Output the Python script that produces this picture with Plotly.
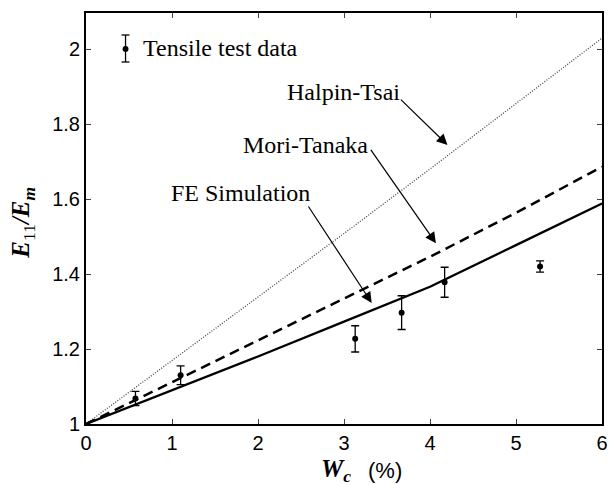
import plotly.graph_objects as go

# ---- data ----
wc_test = [0.575, 1.10, 3.13, 3.67, 4.17, 5.28]
e_test = [1.068, 1.13, 1.227, 1.297, 1.378, 1.42]
e_err = [0.019, 0.025, 0.035, 0.045, 0.04, 0.015]

wc_curve = [0, 1, 2, 3, 4, 5, 6]
e_halpin = [1.0, 1.169, 1.338, 1.508, 1.680, 1.854, 2.029]
e_mori = [1.0, 1.111, 1.222, 1.333, 1.446, 1.563, 1.686]
e_fe = [1.0, 1.090, 1.180, 1.273, 1.366, 1.477, 1.588]

x_ticks = [0, 1, 2, 3, 4, 5, 6]
y_ticks = [1, 1.2, 1.4, 1.6, 1.8, 2]
y_tick_text = ["1", "1.2", "1.4", "1.6", "1.8", "2"]

labels = ["Halpin-Tsai", "Mori-Tanaka", "FE Simulation"]
label_pos = [(2.99, 1.886), (2.55, 1.744), (1.80, 1.616)]
arrow_tail = [(3.644, 1.869), (3.30, 1.735), (2.575, 1.584)]
arrow_tip = [(4.203, 1.744), (4.069, 1.482), (3.322, 1.323)]

SERIF = "Liberation Serif, Times New Roman, serif"
SANS = "Liberation Sans, Arial, sans-serif"

fig = go.Figure()
fig.add_trace(go.Scatter(x=wc_curve, y=e_halpin, mode="lines",
                         line=dict(color="#444444", width=1.3, dash="1px,1.6px"),
                         showlegend=False))
fig.add_trace(go.Scatter(x=wc_curve, y=e_mori, mode="lines",
                         line=dict(color="black", width=2.5, dash="10px,6px"),
                         showlegend=False))
fig.add_trace(go.Scatter(x=wc_curve, y=e_fe, mode="lines",
                         line=dict(color="black", width=2.3),
                         showlegend=False))
fig.add_trace(go.Scatter(x=wc_test, y=e_test, mode="markers",
                         marker=dict(color="black", size=6),
                         error_y=dict(type="data", array=e_err, color="black",
                                      thickness=1.3, width=4),
                         showlegend=False))

annotations = []
for t, (lx, ly) in zip(labels, label_pos):
    annotations.append(dict(x=lx, y=ly, xref="x", yref="y", text=t,
                            showarrow=False, font=dict(family=SERIF, size=24, color="black"),
                            xanchor="center", yanchor="middle"))
for (tx, ty), (hx, hy) in zip(arrow_tail, arrow_tip):
    annotations.append(dict(x=hx, y=hy, ax=tx, ay=ty, xref="x", yref="y",
                            axref="x", ayref="y", text="", showarrow=True,
                            arrowhead=2, arrowsize=1.8, arrowwidth=1.2,
                            arrowcolor="black", standoff=0, startstandoff=0))
# legend text
annotations.append(dict(x=0.107, y=0.914, xref="paper", yref="paper",
                        text="Tensile test data", showarrow=False,
                        font=dict(family=SERIF, size=24, color="black"),
                        xanchor="left", yanchor="middle"))
# axis titles
annotations.append(dict(x=0.529, y=-0.112, xref="paper", yref="paper",
                        text="<b><i>W<sub>c</sub></i></b>",
                        showarrow=False, font=dict(family=SERIF, size=25, color="black"),
                        xanchor="right", yanchor="middle", xshift=-6))
annotations.append(dict(x=0.529, y=-0.112, xref="paper", yref="paper",
                        text="(%)", showarrow=False,
                        font=dict(family=SANS, size=22, color="black"),
                        xanchor="left", yanchor="middle", xshift=7))
annotations.append(dict(x=-0.122, y=0.49, xref="paper", yref="paper",
                        text="<b><i>E</i></b><sub>11</sub><b><i>/E<sub>m</sub></i></b>",
                        showarrow=False, textangle=-90,
                        font=dict(family=SERIF, size=25, color="black"),
                        xanchor="center", yanchor="middle"))

# legend symbol (error bar glyph) in paper coords
lx0 = (126 - 86) / 522.0
def py(p):
    return (424 - p) / 411.0
cap = 4 / 522.0
shapes = [
    dict(type="line", xref="paper", yref="paper", x0=lx0, x1=lx0, y0=py(62), y1=py(35),
         line=dict(color="black", width=1.3)),
    dict(type="line", xref="paper", yref="paper", x0=lx0 - cap, x1=lx0 + cap, y0=py(62), y1=py(62),
         line=dict(color="black", width=1.3)),
    dict(type="line", xref="paper", yref="paper", x0=lx0 - cap, x1=lx0 + cap, y0=py(35), y1=py(35),
         line=dict(color="black", width=1.3)),
    dict(type="circle", xref="paper", yref="paper", x0=lx0 - 3 / 522.0, x1=lx0 + 3 / 522.0,
         y0=py(52), y1=py(46), fillcolor="black", line=dict(color="black", width=0)),
]

fig.update_layout(
    width=615, height=485,
    margin=dict(l=86, r=7, t=13, b=61),
    paper_bgcolor="white", plot_bgcolor="white",
    annotations=annotations, shapes=shapes,
    showlegend=False,
    xaxis=dict(range=[0, 6], tickvals=x_ticks, ticks="inside", ticklen=5, tickwidth=1,
               showline=True, linecolor="black", linewidth=2, mirror="ticks",
               showgrid=False, zeroline=False,
               tickfont=dict(family=SANS, size=20, color="black")),
    yaxis=dict(range=[1, 2.096], tickvals=y_ticks, ticktext=y_tick_text,
               ticks="inside", ticklen=5, tickwidth=1,
               showline=True, linecolor="black", linewidth=2, mirror="ticks",
               showgrid=False, zeroline=False,
               tickfont=dict(family=SANS, size=20, color="black")),
)

fig.write_html("out.html")
